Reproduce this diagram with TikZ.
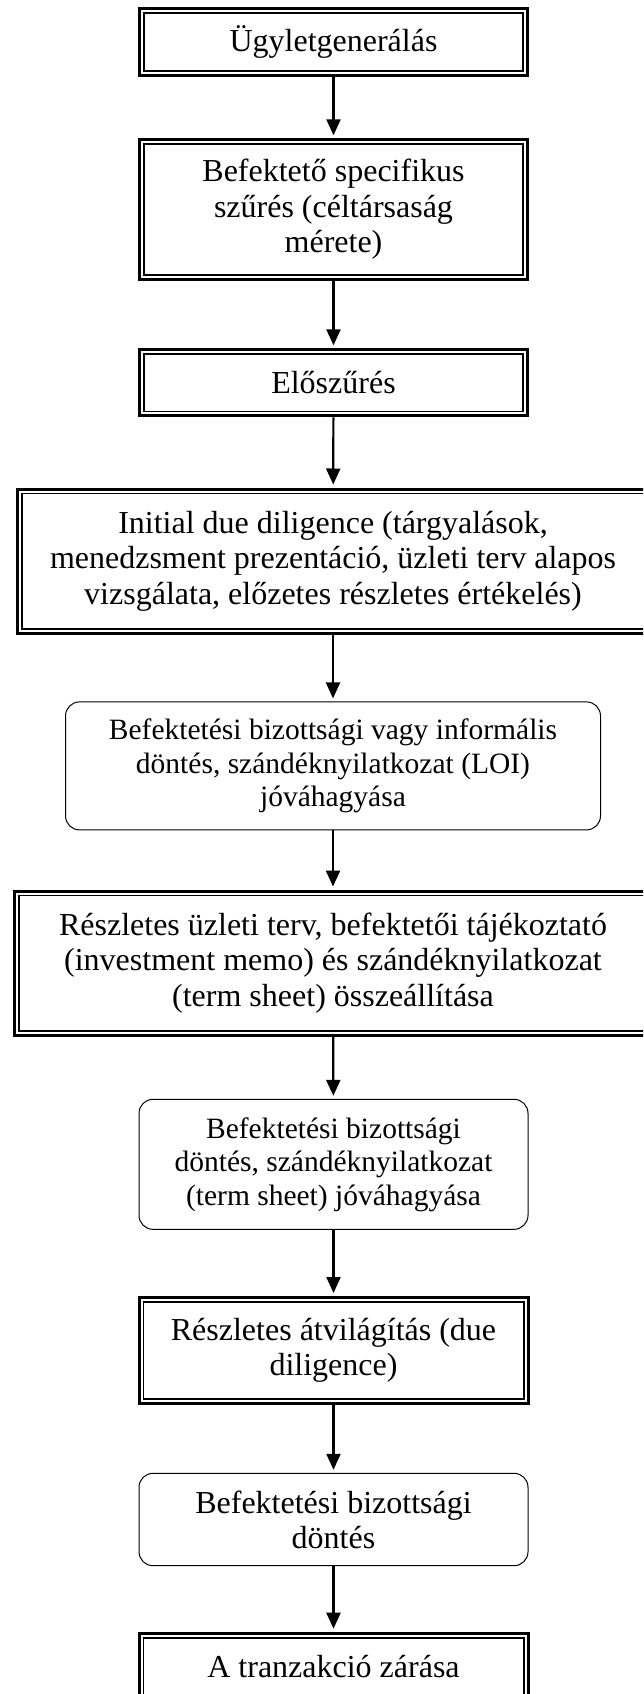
\documentclass[tikz,border=0pt]{standalone}
\usepackage{fontspec}
\setmainfont{Liberation Serif}
\usetikzlibrary{arrows.meta}
\begin{document}
\begin{tikzpicture}[x=1pt,y=-1pt,
 dbox/.style={draw, line width=3pt, align=center, inner sep=0pt,
   font=\fontsize{32}{35.5}\selectfont,
   path picture={\draw[line width=1.8pt]
     ([xshift=4.4pt,yshift=-4.4pt]path picture bounding box.north west) rectangle
     ([xshift=-4.4pt,yshift=4.4pt]path picture bounding box.south east);}},
 rbox/.style={draw, line width=1pt, rounded corners=14pt, align=center, inner sep=0pt,
   font=\fontsize{29.5}{33.5}\selectfont},
 rboxl/.style={rbox, font=\fontsize{32}{35}\selectfont},
 arr/.style={line width=2.2pt, -{Triangle[length=16pt,width=14pt]}, shorten >=3pt}
]
\clip (0,0) rectangle (643,1694);
\node[dbox, minimum width=388, minimum height=67] (b1) at (333.5,42.3) {Ügyletgenerálás};
\node[dbox, minimum width=388, minimum height=139.4] (b2) at (333.5,209.5) {Befektető specifikus\\szűrés (céltársaság\\mérete)};
\node[dbox, minimum width=388, minimum height=66] (b3) at (333.5,382.8) {Előszűrés};
\node[dbox, minimum width=631.6, minimum height=144] (b4) at (333,561) {Initial due diligence (tárgyalások,\\menedzsment prezentáció, üzleti terv alapos\\vizsgálata, előzetes részletes értékelés)};
\node[rbox, minimum width=535, minimum height=128] (b5) at (333,765.9) {Befektetési bizottsági vagy informális\\döntés, szándéknyilatkozat (LOI)\\jóváhagyása};
\node[dbox, minimum width=637.6, minimum height=144.2] (b6) at (333,963.1) {Részletes üzleti terv, befektetői tájékoztató\\(investment memo) és szándéknyilatkozat\\(term sheet) összeállítása};
\node[rbox, minimum width=389, minimum height=130] (b7) at (333.5,1164.3) {Befektetési bizottsági\\döntés, szándéknyilatkozat\\(term sheet) jóváhagyása};
\node[dbox, minimum width=389, minimum height=106] (b8) at (333.5,1350.5) {Részletes átvilágítás (due\\diligence)};
\node[rboxl, minimum width=389, minimum height=92.4] (b9) at (333.5,1519.5) {Befektetési bizottsági\\döntés};
\node[dbox, minimum width=389, minimum height=67] (b10) at (333.5,1666.7) {A tranzakció zárása};
\draw[arr] (b1) -- (b2);
\draw[arr] (b2) -- (b3);
\draw[arr] (b3) -- (b4);
\draw[arr] (b4) -- (b5);
\draw[arr] (b5) -- (b6);
\draw[arr] (b6) -- (b7);
\draw[arr] (b7) -- (b8);
\draw[arr] (b8) -- (b9);
\draw[arr] (b9) -- (b10);
\end{tikzpicture}
\end{document}
